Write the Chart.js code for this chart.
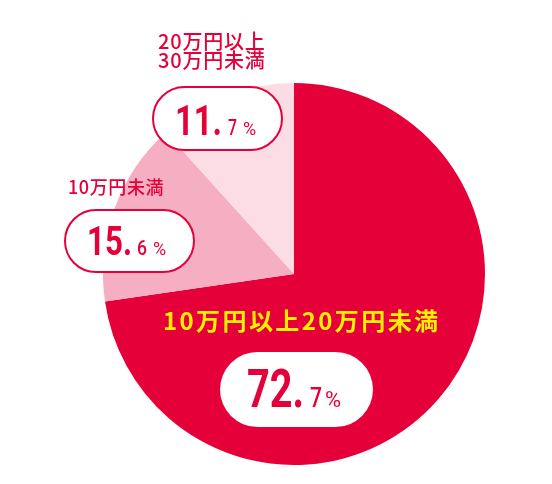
<!DOCTYPE html>
<html>
<head>
<meta charset="utf-8">
<script src="https://cdn.jsdelivr.net/npm/chart.js@4/dist/chart.umd.min.js"></script>
<style>
html,body{margin:0;padding:0;background:#fff;}
#wrap{width:552px;height:484px;}
</style>
</head>
<body>
<div id="wrap"><canvas id="c" width="552" height="484"></canvas></div>
<script>
const categories = ['10万円以上20万円未満', '10万円未満', '20万円以上30万円未満'];
const values = [72.7, 15.6, 11.7];
const colors = ['#E5003A', '#F5AEC2', '#FCDDE5'];

const RED = '#E5003A';
const YELLOW = '#FFF000';
const NUMFONT = 'Roboto, "DejaVu Sans", sans-serif';
const JPFONT = '"Noto Sans CJK JP", "Noto Sans", sans-serif';

function roundRect(ctx, x, y, w, h) {
  const r = h / 2;
  ctx.beginPath();
  ctx.moveTo(x + r, y);
  ctx.lineTo(x + w - r, y);
  ctx.arc(x + w - r, y + r, r, -Math.PI / 2, Math.PI / 2);
  ctx.lineTo(x + r, y + h);
  ctx.arc(x + r, y + r, r, Math.PI / 2, Math.PI * 1.5);
  ctx.closePath();
}

function splitVal(v) {
  const s = v.toFixed(1);
  const [a, b] = s.split('.');
  return [a + '.', b];
}

// layout of annotation boxes (not data)
const boxes = [
  { i: 0, rect: [220, 352, 153, 75], border: false,
    big: [247, 407, 53, 57], small: [310, 407, 27, 12], pct: [325, 407, 22, 18],
    label: { lines: ['10万円以上20万円未満'], x: 163, y: 321, size: 24, spacing: 2.4, color: YELLOW, weight: 700 } },
  { i: 1, rect: [65, 210, 129, 62], border: true,
    big: [87, 255, 40, 45], small: [137, 255, 21, 10], pct: [153, 255, 18, 14],
    label: { lines: ['10万円未満'], x: 68, y: 187, size: 18, spacing: 0.6, color: RED, weight: 500 } },
  { i: 2, rect: [153, 87, 129, 63], border: true,
    big: [175, 135, 42, 47], small: [228, 135, 22, 9], pct: [243, 135, 18, 14],
    label: { lines: ['20万円以上', '30万円未満'], x: 158, y: 41, lh: 19, size: 20, spacing: 0.8, color: RED, weight: 500 } }
];

const annot = {
  id: 'annot',
  afterDraw(chart) {
    const ctx = chart.ctx;
    ctx.save();
    boxes.forEach(b => {
      const [x, y, w, h] = b.rect;
      roundRect(ctx, x, y, w, h);
      ctx.fillStyle = '#fff';
      ctx.fill();
      if (b.border) {
        ctx.lineWidth = 2;
        ctx.strokeStyle = RED;
        ctx.stroke();
      }
      const [bigTxt, smallTxt] = splitVal(values[b.i]);
      ctx.fillStyle = RED;
      ctx.textAlign = 'left';
      ctx.textBaseline = 'alphabetic';
      ctx.letterSpacing = '0px';
      ctx.font = '700 ' + b.big[2] + 'px ' + NUMFONT;
      ctx.fillText(bigTxt, b.big[0], b.big[1], b.big[3]);
      ctx.font = '500 ' + b.small[2] + 'px ' + NUMFONT;
      ctx.fillText(smallTxt, b.small[0], b.small[1], b.small[3]);
      ctx.font = '400 ' + b.pct[2] + 'px ' + NUMFONT;
      ctx.fillText('%', b.pct[0], b.pct[1], b.pct[3]);

      const L = b.label;
      ctx.fillStyle = L.color;
      ctx.textBaseline = 'middle';
      ctx.letterSpacing = L.spacing + 'px';
      ctx.font = L.weight + ' ' + L.size + 'px ' + JPFONT;
      L.lines.forEach((t, k) => ctx.fillText(t, L.x, L.y + k * (L.lh || 0)));
    });
    ctx.restore();
  }
};

new Chart(document.getElementById('c'), {
  type: 'pie',
  data: {
    labels: categories,
    datasets: [{ data: values, backgroundColor: colors, borderWidth: 0 }]
  },
  options: {
    responsive: false,
    animation: false,
    layout: { padding: { left: 103, right: 67, top: 83, bottom: 19 } },
    plugins: { legend: { display: false }, tooltip: { enabled: false } }
  },
  plugins: [annot]
});
</script>
</body>
</html>
